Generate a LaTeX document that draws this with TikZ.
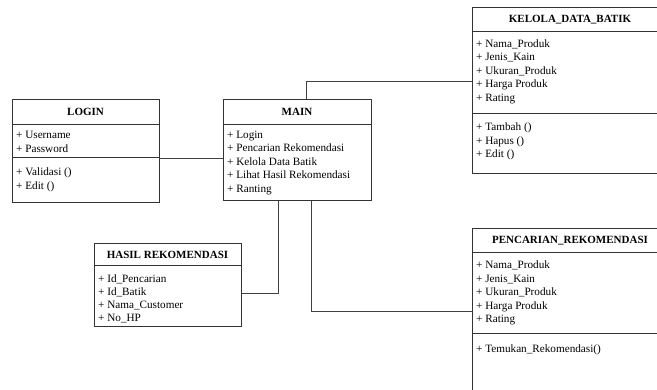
\documentclass[tikz,border=0pt]{standalone}
\usepackage{fontspec}
\setmainfont{Liberation Serif}
\begin{document}
\begin{tikzpicture}[x=1pt,y=-1pt,
  cls/.style={draw=black!80, line width=0.8pt, rectangle, inner sep=0pt, anchor=north west},
  sepline/.style={draw=black!80, line width=0.8pt},
  conn/.style={draw=black!75, line width=0.8pt},
  ttl/.style={font=\fontsize{11}{13}\selectfont\bfseries, inner sep=0pt, anchor=center},
  row/.style={font=\fontsize{11.2}{13}\selectfont, inner sep=0pt, anchor=west, text height=7.5pt, text depth=2.5pt}]
\useasboundingbox (0,0) rectangle (657,390);
\clip (0,0) rectangle (657,390);
% LOGIN
\node[cls, minimum width=147pt, minimum height=103pt] (login) at (12,99) {};
\draw[sepline] ([yshift=-25pt]login.north west) -- ([yshift=-25pt]login.north east);
\draw[sepline] ([yshift=-58pt]login.north west) -- ([yshift=-58pt]login.north east);
\node[ttl] (login-t) at (85.5,112) {LOGIN};
\foreach \t [count=\i] in {+ Username, + Password}
  \node[row] (login-a\i) at (16,{136.5+13.5*(\i-1)}) {\t};
\foreach \t [count=\i] in {+ Validasi (), + Edit ()}
  \node[row] (login-m\i) at (16,{173.5+13.5*(\i-1)}) {\t};
% MAIN
\node[cls, minimum width=148pt, minimum height=101pt] (main) at (223,99) {};
\draw[sepline] ([yshift=-25pt]main.north west) -- ([yshift=-25pt]main.north east);
\node[ttl] (main-t) at (297,112) {MAIN};
\foreach \t [count=\i] in {+ Login, + Pencarian Rekomendasi, + Kelola Data Batik, + Lihat Hasil Rekomendasi, + Ranting}
  \node[row] (main-a\i) at (227,{136+13.5*(\i-1)}) {\t};
% KELOLA_DATA_BATIK
\node[cls, minimum width=196pt, minimum height=166pt] (kelola) at (472,7) {};
\draw[sepline] ([yshift=-24pt]kelola.north west) -- ([yshift=-24pt]kelola.north east);
\draw[sepline] ([yshift=-106pt]kelola.north west) -- ([yshift=-106pt]kelola.north east);
\node[ttl] (kelola-t) at (570,19.5) {KELOLA\_DATA\_BATIK};
\foreach \t [count=\i] in {+ Nama\_Produk, + Jenis\_Kain, + Ukuran\_Produk, + Harga Produk, + Rating}
  \node[row] (kelola-a\i) at (476,{45+13.5*(\i-1)}) {\t};
\foreach \t [count=\i] in {+ Tambah (), + Hapus (), + Edit ()}
  \node[row] (kelola-m\i) at (476,{128.5+13.5*(\i-1)}) {\t};
% HASIL REKOMENDASI
\node[cls, minimum width=147pt, minimum height=83pt] (hasil) at (94,243) {};
\draw[sepline] ([yshift=-22pt]hasil.north west) -- ([yshift=-22pt]hasil.north east);
\node[ttl] (hasil-t) at (167.5,254.5) {HASIL REKOMENDASI};
\foreach \t [count=\i] in {+ Id\_Pencarian, + Id\_Batik, + Nama\_Customer, + No\_HP}
  \node[row] (hasil-a\i) at (98,{280+13*(\i-1)}) {\t};
% PENCARIAN_REKOMENDASI
\node[cls, minimum width=196pt, minimum height=200pt] (pencarian) at (472,228) {};
\draw[sepline] ([yshift=-24pt]pencarian.north west) -- ([yshift=-24pt]pencarian.north east);
\draw[sepline] ([yshift=-105pt]pencarian.north west) -- ([yshift=-105pt]pencarian.north east);
\node[ttl] (pencarian-t) at (570,240.5) {PENCARIAN\_REKOMENDASI};
\foreach \t [count=\i] in {+ Nama\_Produk, + Jenis\_Kain, + Ukuran\_Produk, + Harga Produk, + Rating}
  \node[row] (pencarian-a\i) at (476,{266.5+13.5*(\i-1)}) {\t};
\node[row] (pencarian-m1) at (476,350.5) {+ Temukan\_Rekomendasi()};
% connectors
\coordinate (l1) at (0,158);
\coordinate (k1) at (306,81);
\coordinate (h1) at (278,293);
\coordinate (p1) at (311,311);
\draw[conn] (login.east |- l1) -- (main.west |- l1);
\draw[conn] (main.north -| k1) -- (k1) -- (kelola.west |- k1);
\draw[conn] (main.south -| h1) -- (h1) -- (hasil.east |- h1);
\draw[conn] (main.south -| p1) -- (p1) -- (pencarian.west |- p1);
\end{tikzpicture}
\end{document}
